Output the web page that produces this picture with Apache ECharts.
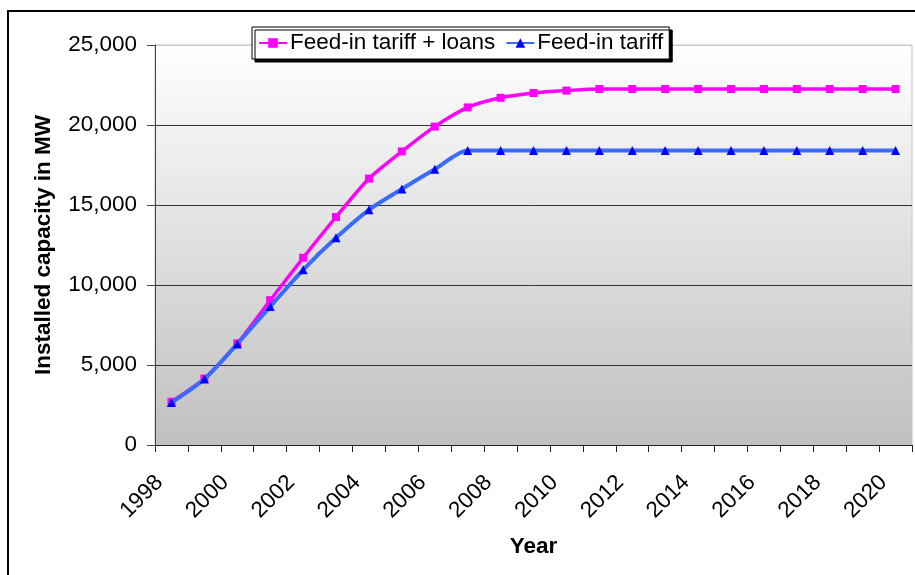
<!DOCTYPE html>
<html>
<head>
<meta charset="utf-8">
<script src="https://cdn.jsdelivr.net/npm/echarts@6/dist/echarts.min.js"></script>
<style>
  html, body { margin: 0; padding: 0; background: #fff; }
  #chart { width: 915px; height: 575px; }
</style>
</head>
<body>
<div id="chart"></div>
<script>
// Installed capacity scenarios, 1998-2020 (MW)
const years = ['1998','1999','2000','2001','2002','2003','2004','2005','2006','2007','2008','2009','2010',
               '2011','2012','2013','2014','2015','2016','2017','2018','2019','2020'];
const tariffLoans = [2700, 4150, 6350, 9050, 11700, 14250, 16650, 18350, 19900, 21100, 21700, 22000, 22150,
                     22250, 22250, 22250, 22250, 22250, 22250, 22250, 22250, 22250, 22250];
const tariffOnly = [2650, 4120, 6320, 8650, 10950, 12950, 14700, 16000, 17230, 18400, 18400, 18400, 18400,
                    18400, 18400, 18400, 18400, 18400, 18400, 18400, 18400, 18400, 18400];
const seriesNames = ['Feed-in tariff + loans', 'Feed-in tariff'];

const FONT = '"Liberation Sans", Arial, sans-serif';
const FS = 22.5;

const chart = echarts.init(document.getElementById('chart'), null, { renderer: 'canvas' });
chart.setOption({
  animation: false,
  backgroundColor: '#fff',
  textStyle: { fontFamily: FONT },
  grid: {
    left: 155, top: 45, right: 3, bottom: 130,
    show: true,
    borderColor: '#c4c4c4',
    borderWidth: 1,
    backgroundColor: new echarts.graphic.LinearGradient(0, 0, 0, 1, [
      { offset: 0, color: '#ffffff' },
      { offset: 1, color: '#c0c0c0' }
    ])
  },
  graphic: [
    { type: 'rect', z: 100, silent: true,
      shape: { x: 8, y: 11, width: 920, height: 580 },
      style: { fill: 'none', stroke: '#000', lineWidth: 2 } }
  ],
  legend: {
    left: 252, top: 27,
    padding: [3, 6, 3, 6],
    itemGap: 10,
    itemWidth: 28, itemHeight: 12,
    backgroundColor: '#fff',
    borderColor: '#000',
    borderWidth: 1,
    shadowColor: '#000',
    shadowBlur: 0,
    shadowOffsetX: 3,
    shadowOffsetY: 3,
    z: 5,
    textStyle: { fontFamily: FONT, fontSize: FS, lineHeight: 26, color: '#000', padding: [0, 0, 0, -2] },
    data: seriesNames
  },
  xAxis: {
    type: 'category',
    data: years,
    boundaryGap: true,
    name: 'Year',
    nameLocation: 'middle',
    nameGap: 90,
    nameTextStyle: { fontFamily: FONT, fontSize: FS, fontWeight: 'bold', color: '#000' },
    axisLine: { lineStyle: { color: '#222', width: 1 } },
    axisTick: { show: true, interval: 0, length: 7, lineStyle: { color: '#222' } },
    axisLabel: {
      interval: 1, rotate: 45, fontSize: FS, color: '#000', margin: 22, fontFamily: FONT,
      padding: [0, 17, 0, 0]
    },
    splitLine: { show: false }
  },
  yAxis: {
    type: 'value',
    min: 0, max: 25000, interval: 5000,
    name: 'Installed capacity in MW',
    nameLocation: 'middle',
    nameGap: 100,
    nameTextStyle: { fontFamily: FONT, fontSize: FS, fontWeight: 'bold', color: '#000' },
    axisLine: { show: true, lineStyle: { color: '#444', width: 1 } },
    axisTick: { show: true, length: 8, lineStyle: { color: '#444' } },
    axisLabel: {
      fontSize: FS, color: '#000', margin: 18, fontFamily: FONT,
      formatter: v => v.toLocaleString('en-US')
    },
    splitLine: { show: true, lineStyle: { color: ['#333', '#333', '#333', '#333', '#333', '#c8c8c8'], width: 1 } }
  },
  series: [
    {
      name: seriesNames[0],
      type: 'line',
      data: tariffLoans,
      smooth: 0.25,
      symbol: 'rect',
      symbolSize: 8,
      lineStyle: { color: '#ff00ff', width: 3.5 },
      itemStyle: { color: '#ff00ff' },
      z: 3
    },
    {
      name: seriesNames[1],
      type: 'line',
      data: tariffOnly,
      smooth: 0.25,
      symbol: 'triangle',
      symbolSize: 9,
      lineStyle: { color: '#3a6bff', width: 4 },
      itemStyle: { color: '#0000ff' },
      z: 4
    }
  ]
});
</script>
</body>
</html>
